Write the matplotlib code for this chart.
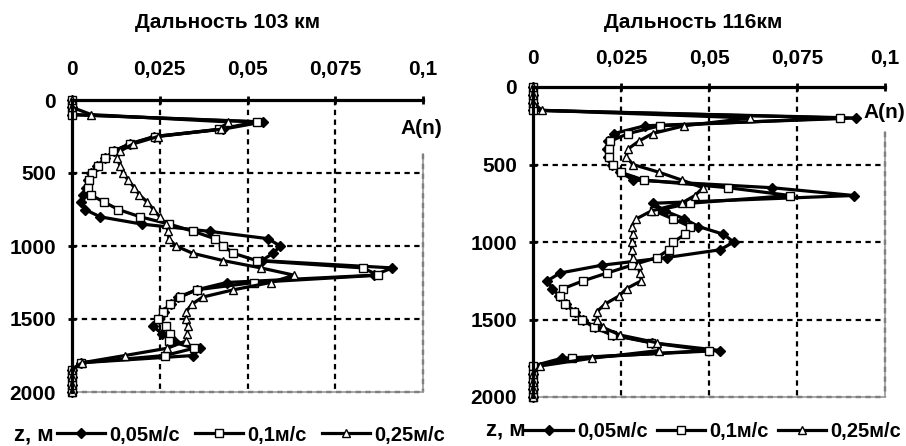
import matplotlib
matplotlib.use("Agg")
import matplotlib.pyplot as plt
from matplotlib.lines import Line2D

plt.rcParams['font.family'] = ['Liberation Sans', 'DejaVu Sans']
plt.rcParams['font.weight'] = 'bold'

# ---------------- data ----------------
depth = [0, 50, 100, 150, 200, 250, 300, 350, 400, 450,
         500, 550, 600, 650, 700, 750, 800, 850, 900, 950,
         1000, 1050, 1100, 1150, 1200, 1250, 1300, 1350, 1400, 1450,
         1500, 1550, 1600, 1650, 1700, 1750, 1800, 1850, 1900, 1950, 2000]

# range 103 km
left_005 = [0, 0, 0, 0.0545, 0.043, 0.0235, 0.0165, 0.012, 0.0095, 0.0072,
            0.0055, 0.0045, 0.004, 0.0032, 0.0027, 0.0037, 0.008, 0.0199, 0.0393, 0.0559,
            0.0593, 0.0573, 0.054, 0.0913, 0.086, 0.0441, 0.0355, 0.0303, 0.0282, 0.0262,
            0.0248, 0.0232, 0.0255, 0.029, 0.0365, 0.0346, 0.0025, 0, 0, 0, 0]
left_010 = [0, 0, 0, 0.0526, 0.042, 0.0236, 0.0165, 0.0118, 0.0095, 0.0073,
            0.0057, 0.0049, 0.0047, 0.0053, 0.0092, 0.0132, 0.0194, 0.0277, 0.0346, 0.0407,
            0.0431, 0.046, 0.0526, 0.0828, 0.0873, 0.0519, 0.0355, 0.0308, 0.0279, 0.0258,
            0.0246, 0.0268, 0.0279, 0.0277, 0.0348, 0.0265, 0.0025, 0, 0, 0, 0]
left_025 = [0, 0, 0.0055, 0.0445, 0.0425, 0.0245, 0.0175, 0.0137, 0.0129, 0.0137,
            0.0146, 0.016, 0.0178, 0.0192, 0.0215, 0.0232, 0.025, 0.0268, 0.0274, 0.0276,
            0.0296, 0.0344, 0.0431, 0.0538, 0.0633, 0.0566, 0.046, 0.0372, 0.0341, 0.0325,
            0.0325, 0.033, 0.0329, 0.0325, 0.0272, 0.0151, 0.0028, 0, 0, 0, 0]

# range 116 km
right_005 = [0, 0, 0, 0, 0.0918, 0.0318, 0.0231, 0.0212, 0.021, 0.0212,
             0.0225, 0.0248, 0.0285, 0.068, 0.0911, 0.0342, 0.0375, 0.043, 0.047, 0.0541,
             0.057, 0.0532, 0.038, 0.0195, 0.0077, 0.0041, 0.0055, 0.0075, 0.0093, 0.012,
             0.0142, 0.0175, 0.0228, 0.0338, 0.0532, 0.0082, 0, 0, 0, 0, 0]
right_010 = [0, 0, 0, 0, 0.0873, 0.0361, 0.0271, 0.0219, 0.0217, 0.0217,
             0.0227, 0.0249, 0.0314, 0.0555, 0.073, 0.0446, 0.0345, 0.0397, 0.0446, 0.0432,
             0.0399, 0.0385, 0.0353, 0.028, 0.0211, 0.0143, 0.0086, 0.0077, 0.0091, 0.0117,
             0.0138, 0.0173, 0.0224, 0.0335, 0.0499, 0.011, 0, 0, 0, 0, 0]
right_025 = [0, 0, 0, 0.0025, 0.0617, 0.043, 0.034, 0.03, 0.027, 0.0265,
             0.0284, 0.0358, 0.0422, 0.0483, 0.046, 0.0422, 0.0336, 0.0294, 0.028, 0.0284,
             0.028, 0.028, 0.0284, 0.0299, 0.0303, 0.0308, 0.0266, 0.0243, 0.0205, 0.0181,
             0.0183, 0.0198, 0.0247, 0.0352, 0.0359, 0.0167, 0.002, 0, 0, 0, 0]

x_ticks = [0, 0.025, 0.05, 0.075, 0.1]
x_ticklabels = ["0", "0,025", "0,05", "0,075", "0,1"]
y_ticks = [0, 500, 1000, 1500, 2000]
series_labels = ["0,05м/с", "0,1м/с", "0,25м/с"]
titles = ["Дальность 103 км", "Дальность 116км"]

W, H = 906, 446
FS = 15          # tick labels
LFS = 14.5       # legend
styles = [dict(marker='D', ms=5, mfc='black', mec='black'),
          dict(marker='s', ms=5.5, mfc='white', mec='black', mew=1),
          dict(marker='^', ms=6, mfc='white', mec='black', mew=1)]
dash = (0, (2.4, 2.0))

fig = plt.figure(figsize=(W / 100, H / 100), dpi=100)


def px_box(x0, y0, x1, y1):
    return [x0 / W, 1 - y1 / H, (x1 - x0) / W, (y1 - y0) / H]


def panel(box, data, title, title_xy, an_xy, z_xy, leg_x, leg_y, border_from, xpad,
          hlen, cspace):
    ax = fig.add_axes(px_box(*box))
    for vals, st in zip(data, styles):
        ax.plot(vals, depth, color='black', lw=2.3, clip_on=False, zorder=5, **st)
    ax.set_xlim(0, 0.1)
    ax.set_ylim(2000, 0)
    ax.xaxis.tick_top()
    ax.set_xticks(x_ticks)
    ax.set_xticklabels(x_ticklabels)
    ax.set_yticks(y_ticks)
    ax.tick_params(axis='x', direction='inout', length=6, width=2, pad=xpad, labelsize=FS)
    ax.tick_params(axis='y', direction='inout', length=6, width=2, pad=8.5, labelsize=FS)
    for t in ax.get_xticklabels() + ax.get_yticklabels():
        t.set_fontweight('bold')
    ax.spines['top'].set_linewidth(2.3)
    ax.spines['left'].set_linewidth(2.3)
    ax.spines['top'].set_zorder(6)
    ax.spines['left'].set_zorder(6)
    for s in ['right', 'bottom']:
        ax.spines[s].set_color('#9a9a9a')
        ax.spines[s].set_linewidth(1.2)
    ax.spines['right'].set_bounds(2000, border_from)
    # dashed grid
    for xv in x_ticks[1:4]:
        ax.plot([xv, xv], [0, 2000], color='black', lw=1.6, ls=dash, zorder=1)
    ax.plot([0.1, 0.1], [border_from, 2000], color='black', lw=1.6, ls=dash, zorder=1, clip_on=False)
    for yv in y_ticks[1:]:
        ax.plot([0, 0.1], [yv, yv], color='black', lw=1.6, ls=dash, zorder=1, clip_on=False)

    fig.text(title_xy[0] / W, 1 - title_xy[1] / H, title, ha='center', va='center',
             fontsize=15, fontweight='bold')
    fig.text(an_xy[0] / W, 1 - an_xy[1] / H, "A(n)", ha='center', va='center',
             fontsize=FS, fontweight='bold')
    fig.text(z_xy[0] / W, 1 - z_xy[1] / H, "z, м", ha='left', va='center',
             fontsize=16, fontweight='bold')

    handles = [Line2D([], [], color='black', lw=2.3, **st) for st in styles]
    fig.legend(handles, series_labels, loc='center left',
               bbox_to_anchor=(leg_x / W, 1 - leg_y / H), ncol=3, frameon=False,
               borderpad=0, borderaxespad=0, handlelength=hlen, handletextpad=0.2,
               columnspacing=cspace, prop=dict(size=LFS, weight='bold'))
    return ax


panel((72, 100, 423, 392), [left_005, left_010, left_025], titles[0],
      (228, 23), (421, 128), (14, 435), 57, 435, 370, 12, 2.4, 0.75)
panel((533, 87, 885, 397), [right_005, right_010, right_025], titles[1],
      (693, 23), (884, 112), (486, 430), 525, 432, 290, 11, 2.4, 0.45)

fig.savefig("out.png", dpi=100)
